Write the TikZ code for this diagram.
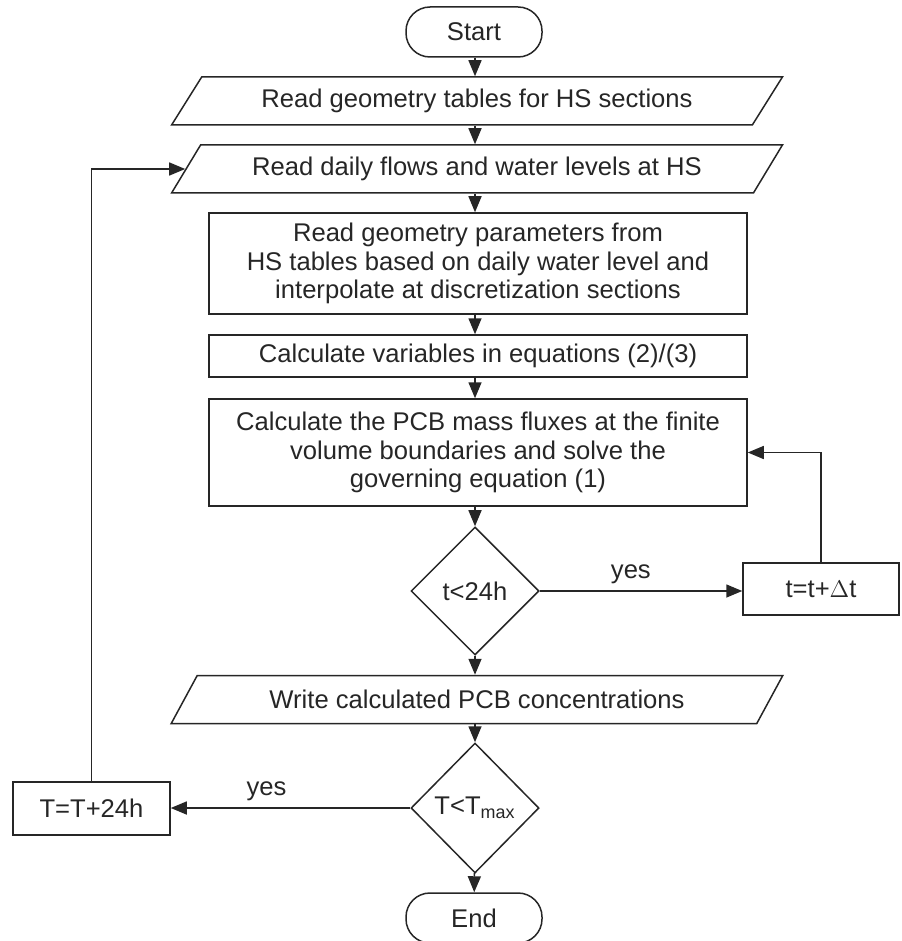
\documentclass[tikz,border=0pt]{standalone}
\usepackage{fontspec}
\setmainfont{Liberation Sans}
\usetikzlibrary{arrows.meta,positioning,shapes.geometric}

\begin{document}
\begin{tikzpicture}[x=0.5pt,y=-0.5pt, >={Triangle[length=8pt,width=6.5pt]},
  color=black!85, line width=0.75pt,
  every node/.style={font=\fontsize{12.8}{14.2}\selectfont},
  proc/.style={draw,rectangle,align=center,inner sep=2pt},
  term/.style={draw,rectangle,rounded corners=12pt,minimum width=68pt,minimum height=25pt},
  io/.style={draw,trapezium,trapezium left angle=49.5,trapezium right angle=130.5,
    trapezium stretches=true,minimum width=306pt,minimum height=24pt,inner sep=1pt},
  test/.style={draw,diamond,inner sep=0pt,minimum width=64pt,minimum height=64pt}]
\useasboundingbox (0,0) rectangle (901,941);
% main column
\node[term] (start) at (474,32) {Start};
\node[io] (geo) at (477,101) {Read geometry tables for HS sections};
\node[io] (flow) at (477,169) {Read daily flows and water levels at HS};
\node[proc,minimum width=269pt,minimum height=50.5pt] (geom) at (478,263.5)
  {Read geometry parameters from\\ HS tables based on daily water level and\\ interpolate at discretization sections};
\node[proc,minimum width=269pt,minimum height=21pt] (vars) at (478,356)
  {Calculate variables in equations (2)/(3)};
\node[proc,minimum width=269pt,minimum height=53.5pt] (flux) at (478,452.5)
  {Calculate the PCB mass fluxes at the finite\\ volume boundaries and solve the\\ governing equation (1)};
\node[test] (tcheck) at (475,591) {t<24h};
\node[proc,minimum width=78pt,minimum height=26pt] (tstep) at (821,589) {t=t+$\Delta$t};
\node[io] (out) at (477,699.5) {Write calculated PCB concentrations};
\node[test,minimum height=65pt] (Tcheck) at (475,808) {T<T\textsubscript{max}};
\node[proc,minimum width=78.5pt,minimum height=26.5pt] (Tstep) at (91.5,808.5) {T=T+24h};
\node[term] (stop) at (474,918) {End};
% connectors
\draw[->] (start.south -| tcheck) -- (tcheck |- geo.north);
\draw[->] (geo.south -| tcheck) -- (tcheck |- flow.north);
\draw[->] (flow.south -| tcheck) -- (tcheck |- geom.north);
\draw[->] (geom.south -| tcheck) -- (tcheck |- vars.north);
\draw[->] (vars.south -| tcheck) -- (tcheck |- flux.north);
\draw[->] (flux.south -| tcheck) -- (tcheck);
\draw[->] (tcheck.east) -- node[above,pos=0.45] {yes} (tcheck.east -| tstep.west);
\draw[->] (tstep.north) |- (flux.east);
\draw[->] (tcheck) -- (tcheck |- out.north);
\draw[->] (out.south -| tcheck) -- (Tcheck);
\draw[->] (Tcheck.west) -- node[above,pos=0.6] {yes} (Tcheck.west -| Tstep.east);
\draw[->] (Tstep.north) |- (flow.west);
\draw[->] (Tcheck) -- (stop);
\end{tikzpicture}
\end{document}
